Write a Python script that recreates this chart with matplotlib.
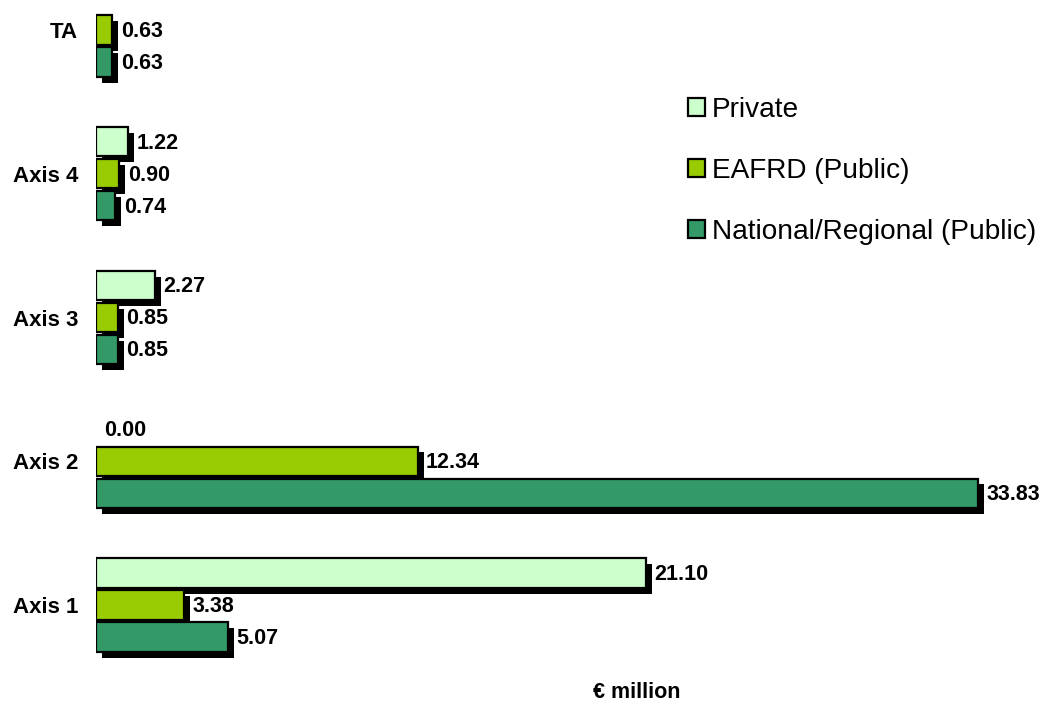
import numpy as np
import matplotlib
matplotlib.use("Agg")
import matplotlib.pyplot as plt
import matplotlib.patheffects as pe
from matplotlib.patches import Patch

plt.rcParams['font.family'] = ['Liberation Sans', 'DejaVu Sans']

categories = ["Axis 1", "Axis 2", "Axis 3", "Axis 4", "TA"]
private = [21.10, 0.00, 2.27, 1.22, np.nan]
eafrd = [3.38, 12.34, 0.85, 0.90, 0.63]
national = [5.07, 33.83, 0.85, 0.74, 0.63]

series_names = ["Private", "EAFRD (Public)", "National/Regional (Public)"]
colors = ["#CCFFCC", "#99CC00", "#339966"]

fig = plt.figure(figsize=(10.44, 7.04), dpi=100)
ax = fig.add_axes([96 / 1044, 0, 948 / 1044, 1])

y = np.arange(len(categories))
slot = 0.2226
bar_h = 0.205
shadow = [pe.SimplePatchShadow(offset=(4.3, -4.3), shadow_rgbFace="black", alpha=1.0), pe.Normal()]

# draw top bar first so lower bars cover its shadow
for vals, offs, col in zip([private, eafrd, national], [slot, 0, -slot], colors):
    vals = np.array(vals, dtype=float)
    lws = [1.6 if (not np.isnan(v) and v > 0) else 0 for v in vals]
    bars = ax.barh(y + offs, vals, height=bar_h, color=col, edgecolor="black",
                   linewidth=lws)
    for b in bars:
        b.set_path_effects(shadow)
    for yi, v in zip(y + offs, vals):
        if np.isnan(v):
            continue
        ax.annotate("%.2f" % v, (v, yi), xytext=(6, -1), textcoords="offset points",
                    ha="left", va="center", fontsize=15.5, fontweight="bold")

ax.set_xlim(0, 36.36)
ax.set_ylim(-(704 - 605) / 143.75, 4 + 30 / 143.75)
ax.set_yticks(y)
ax.set_yticklabels(categories, fontsize=16, fontweight="bold")
ax.tick_params(axis="y", length=0, pad=13)
ax.set_xticks([])
for s in ax.spines.values():
    s.set_visible(False)

handles = [Patch(facecolor=c, edgecolor="black", linewidth=1.6) for c in colors]
fig.legend(handles, series_names, loc="center left", bbox_to_anchor=(688 / 1044, 1 - 171 / 704),
           frameon=False, fontsize=20.2, handlelength=0.6, handleheight=0.6,
           handletextpad=0.25, labelspacing=1.24, borderpad=0, borderaxespad=0)

fig.text(637 / 1044, 1 - 693 / 704, "€ million", ha="center", va="center",
         fontsize=15.5, fontweight="bold")

fig.savefig("out.png", dpi=100)
